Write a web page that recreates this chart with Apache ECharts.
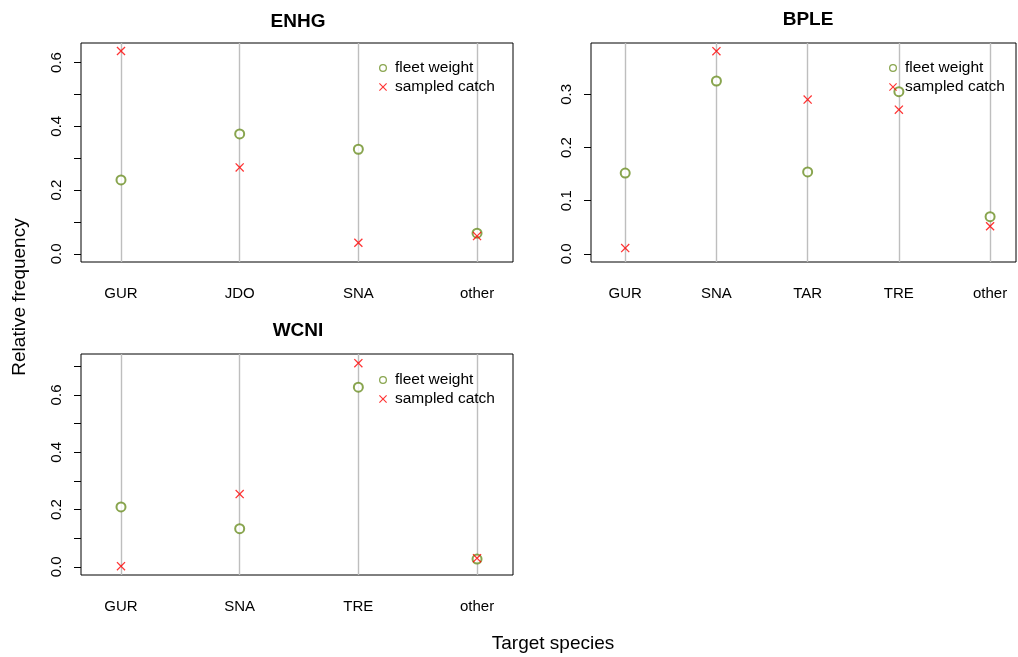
<!DOCTYPE html>
<html>
<head>
<meta charset="utf-8">
<script src="https://cdn.jsdelivr.net/npm/echarts@6/dist/echarts.min.js"></script>
<style>html,body{margin:0;padding:0;background:#fff;}#c{width:1018px;height:657px;}</style>
</head>
<body>
<div id="c"></div>
<script>
// ---- data ----
const enhgCats = ['GUR', 'JDO', 'SNA', 'other'];
const enhgFleet = [0.232, 0.376, 0.328, 0.065];
const enhgSampled = [0.636, 0.271, 0.035, 0.056];

const bpleCats = ['GUR', 'SNA', 'TAR', 'TRE', 'other'];
const bpleFleet = [0.152, 0.325, 0.154, 0.305, 0.070];
const bpleSampled = [0.011, 0.381, 0.290, 0.271, 0.052];

const wcniCats = ['GUR', 'SNA', 'TRE', 'other'];
const wcniFleet = [0.209, 0.133, 0.627, 0.027];
const wcniSampled = [0.002, 0.254, 0.711, 0.030];

const enhgYTicks = [0, 0.1, 0.2, 0.3, 0.4, 0.5, 0.6];
const enhgYLabels = [0, 0.2, 0.4, 0.6];
const bpleYTicks = [0, 0.1, 0.2, 0.3];
const bpleYLabels = [0, 0.1, 0.2, 0.3];
const wcniYTicks = [0, 0.1, 0.2, 0.3, 0.4, 0.5, 0.6, 0.7];
const wcniYLabels = [0, 0.2, 0.4, 0.6];

const titles = ['ENHG', 'BPLE', 'WCNI'];
const seriesNames = ['fleet weight', 'sampled catch'];

// ---- styles ----
const FONT = 'Liberation Sans, Arial, sans-serif';
const GREEN = '#6B8E23';
const RED = '#FF0000';
const CROSS = 'path://M0,1L1,0L5,4L9,0L10,1L6,5L10,9L9,10L5,6L1,10L0,9L4,5Z';
const RING = 'path://M5,0A5,5 0 1,0 5,10A5,5 0 1,0 5,0ZM5,1.6A3.4,3.4 0 1,1 5,8.4A3.4,3.4 0 1,1 5,1.6Z';

const panels = [
  {cats: enhgCats, fleet: enhgFleet, sampled: enhgSampled, yTicks: enhgYTicks, yLabels: enhgYLabels,
   grid: {left: 81, top: 43, width: 432, height: 219}, xMin: 0.663, xMax: 4.303, yMin: -0.0254, yMax: 0.661,
   title: {x: 298, y: 12}, legend: {left: 379, top: 59}},
  {cats: bpleCats, fleet: bpleFleet, sampled: bpleSampled, yTicks: bpleYTicks, yLabels: bpleYLabels,
   grid: {left: 591, top: 43, width: 425, height: 219}, xMin: 0.625, xMax: 5.284, yMin: -0.0152, yMax: 0.3964,
   title: {x: 808, y: 10}, legend: {left: 889, top: 59}},
  {cats: wcniCats, fleet: wcniFleet, sampled: wcniSampled, yTicks: wcniYTicks, yLabels: wcniYLabels,
   grid: {left: 81, top: 354, width: 432, height: 221}, xMin: 0.663, xMax: 4.303, yMin: -0.0287, yMax: 0.743,
   title: {x: 298, y: 321}, legend: {left: 379, top: 371}}
];

const option = {
  animation: false,
  backgroundColor: '#fff',
  title: [], grid: [], xAxis: [], yAxis: [], series: [], legend: [],
  graphic: [
    {type: 'text', x: 20, y: 297, rotation: Math.PI / 2,
     style: {text: 'Relative frequency', font: '19px ' + FONT, fill: '#000', align: 'center', verticalAlign: 'middle'}},
    {type: 'text', x: 553, y: 644,
     style: {text: 'Target species', font: '19px ' + FONT, fill: '#000', align: 'center', verticalAlign: 'middle'}}
  ]
};

panels.forEach((p, i) => {
  option.title.push({
    text: titles[i], left: p.title.x, top: p.title.y, textAlign: 'center', padding: 0,
    textStyle: {fontFamily: FONT, fontWeight: 'bold', fontSize: 19, color: '#000'}
  });
  option.grid.push(Object.assign({show: true, borderColor: '#000', borderWidth: 1, backgroundColor: 'transparent'}, p.grid));
  const idx = p.cats.map((c, k) => k + 1);
  option.xAxis.push({
    type: 'value', gridIndex: i, min: p.xMin, max: p.xMax,
    axisLine: {show: false},
    splitLine: {show: false},
    axisTick: {show: true, inside: false, length: 7, customValues: idx, lineStyle: {color: '#000', width: 1}},
    axisLabel: {show: true, customValues: idx, margin: 24, formatter: v => p.cats[Math.round(v) - 1] || '',
      fontFamily: FONT, fontSize: 15, color: '#000'}
  });
  option.yAxis.push({
    type: 'value', gridIndex: i, min: p.yMin, max: p.yMax,
    axisLine: {show: false},
    splitLine: {show: false},
    axisTick: {show: true, inside: false, length: 7, customValues: p.yTicks, lineStyle: {color: '#000', width: 1}},
    axisLabel: {show: true, customValues: p.yLabels, rotate: 90, margin: 24, formatter: v => v.toFixed(1),
      fontFamily: FONT, fontSize: 15, color: '#000', verticalAlign: 'middle', align: 'center'}
  });
  option.series.push({
    type: 'scatter', name: seriesNames[0], xAxisIndex: i, yAxisIndex: i, z: 2,
    symbol: 'emptyCircle', symbolSize: 9,
    itemStyle: {color: GREEN, borderColor: GREEN, borderWidth: 1.3},
    data: p.fleet.map((v, k) => [k + 1, v]),
    markLine: {
      silent: true, symbol: ['none', 'none'], animation: false, z: 1,
      label: {show: false},
      lineStyle: {color: '#BEBEBE', type: 'solid', width: 1.4},
      emphasis: {disabled: true},
      data: idx.map(v => ({xAxis: v}))
    }
  });
  option.series.push({
    type: 'scatter', name: seriesNames[1], xAxisIndex: i, yAxisIndex: i, z: 3,
    symbol: CROSS, symbolSize: 9,
    itemStyle: {color: RED},
    data: p.sampled.map((v, k) => [k + 1, v])
  });
  option.legend.push({
    orient: 'vertical', left: p.legend.left, top: p.legend.top + 1, padding: 0, itemGap: 3,
    itemWidth: 8, itemHeight: 8, selectedMode: false,
    textStyle: {fontFamily: FONT, fontSize: 15.5, color: '#000', padding: [0, 0, 0, 3]},
    data: [
      {name: seriesNames[0], icon: RING, itemStyle: {color: GREEN, borderWidth: 0}},
      {name: seriesNames[1], icon: CROSS, itemStyle: {color: RED, borderWidth: 0}}
    ]
  });
});

const chart = echarts.init(document.getElementById('c'), null, {renderer: 'canvas'});
chart.setOption(option);
</script>
</body>
</html>
